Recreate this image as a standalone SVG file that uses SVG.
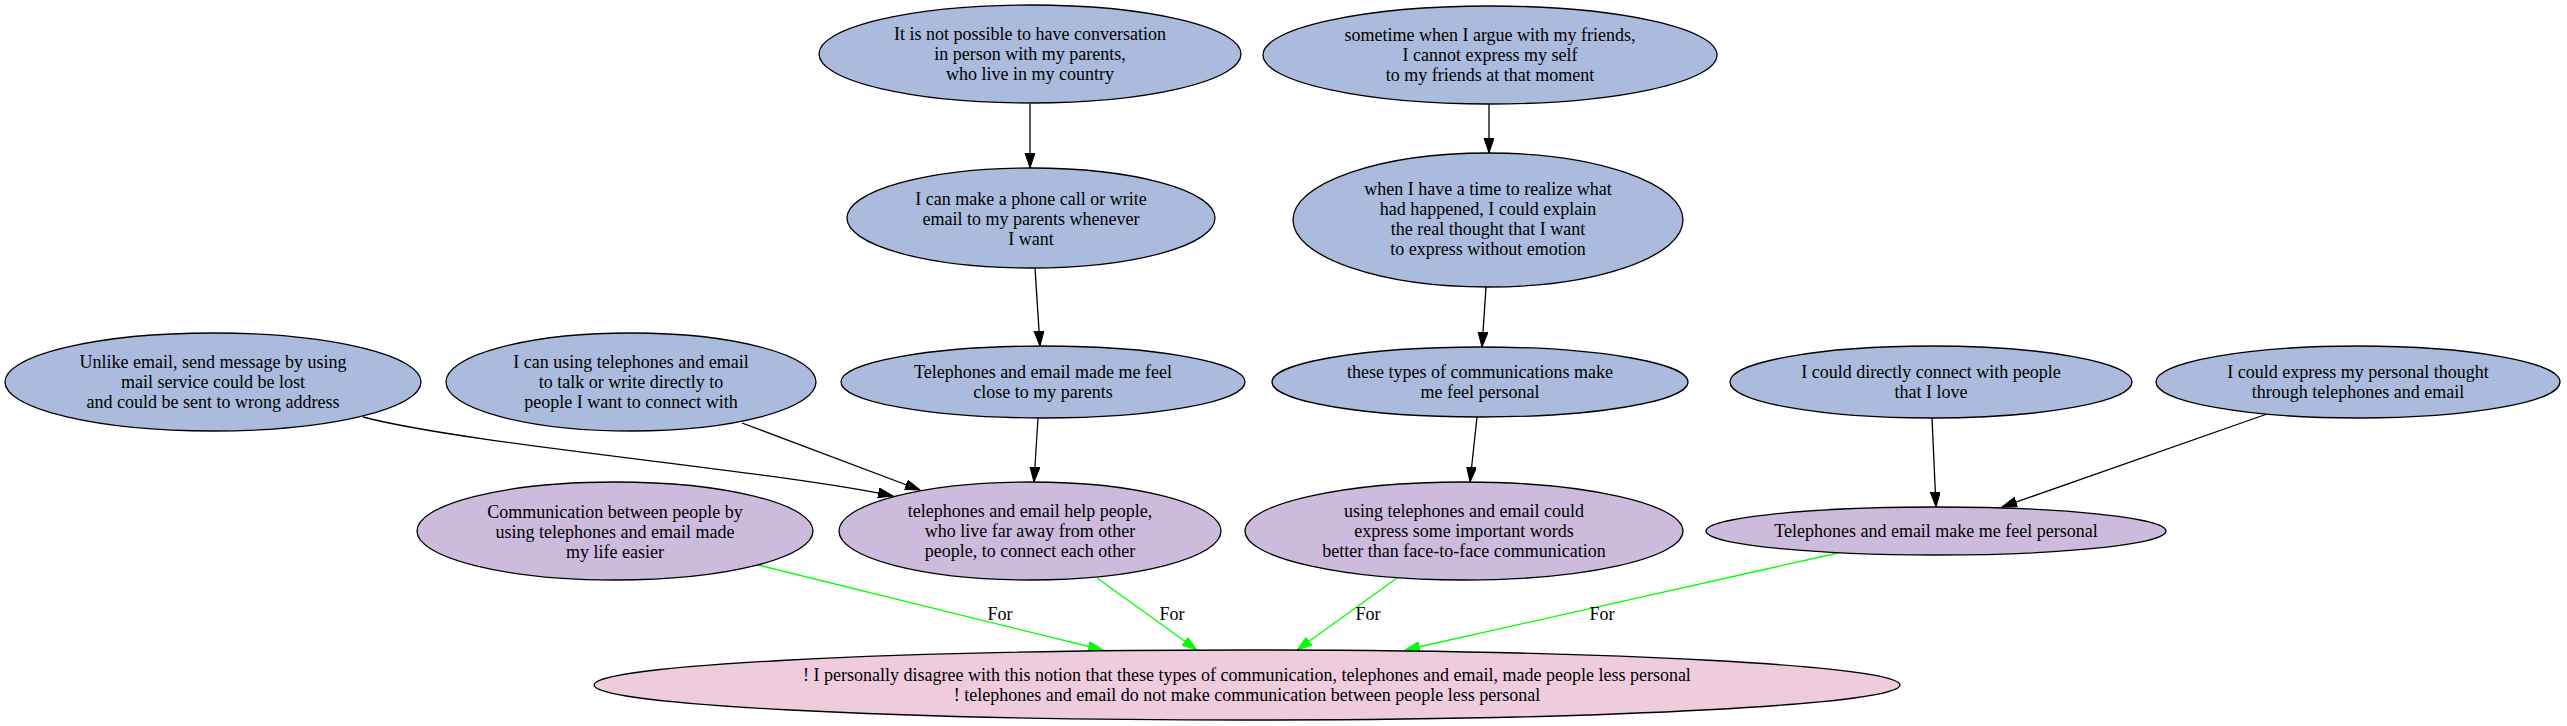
<svg xmlns="http://www.w3.org/2000/svg" width="2567" height="726" viewBox="0 0 2567 726">
<style>
.n ellipse{stroke:#000;stroke-width:1.3}
.b ellipse{fill:#aabbdd}
.p ellipse{fill:#ccbbdd}
.k ellipse{fill:#eeccdd}
text{font-family:"Liberation Serif","Times New Roman",serif;font-size:18px;fill:#000;text-anchor:middle}
.e path{fill:none;stroke-width:1.3}
.bl{stroke:#000}
.gr{stroke:#00ff00}
</style>
<defs>
<marker id="ab" markerUnits="userSpaceOnUse" markerWidth="16" markerHeight="11" refX="15" refY="5" orient="auto" viewBox="0 0 16 11"><path d="M0,0 L15,5 L0,10 z" fill="#000" stroke="#000" stroke-width="1"/></marker>
<marker id="ag" markerUnits="userSpaceOnUse" markerWidth="16" markerHeight="11" refX="15" refY="5" orient="auto" viewBox="0 0 16 11"><path d="M0,0 L15,5 L0,10 z" fill="#00ff00" stroke="#00ff00" stroke-width="1"/></marker>
</defs>
<rect width="2567" height="726" fill="#fff"/>
<g id="edges" class="e">
<path class="bl" d="M1030,104 L1030,168" marker-end="url(#ab)"/>
<path class="bl" d="M1489,104 L1489,153" marker-end="url(#ab)"/>
<path class="bl" d="M1035,268 L1040,346" marker-end="url(#ab)"/>
<path class="bl" d="M1486,287 L1482,347" marker-end="url(#ab)"/>
<path class="bl" d="M1038,418 L1034,482" marker-end="url(#ab)"/>
<path class="bl" d="M1477,417 L1470,482" marker-end="url(#ab)"/>
<path class="bl" d="M742,423 L920,490" marker-end="url(#ab)"/>
<path class="bl" d="M363,417 C470,445 770,470 893,496" marker-end="url(#ab)"/>
<path class="bl" d="M1932,418 L1936,507" marker-end="url(#ab)"/>
<path class="bl" d="M2267,414 L2002,507" marker-end="url(#ab)"/>
<path class="gr" d="M758,565 L1103,650" marker-end="url(#ag)"/>
<path class="gr" d="M1097,578 L1197,650" marker-end="url(#ag)"/>
<path class="gr" d="M1397,578 L1297,650" marker-end="url(#ag)"/>
<path class="gr" d="M1838,553 L1405,650" marker-end="url(#ag)"/>
<text x="1000" y="620">For</text>
<text x="1172" y="620">For</text>
<text x="1368" y="620">For</text>
<text x="1602" y="620">For</text>
</g>
<g id="nA" class="n b"><ellipse cx="1030" cy="54" rx="211" ry="49"/><text x="1030" y="40">It is not possible to have conversation</text><text x="1030" y="60">in person with my parents,</text><text x="1030" y="80">who live in my country</text></g>
<g id="nB" class="n b"><ellipse cx="1490" cy="55" rx="227" ry="49"/><text x="1490" y="41">sometime when I argue with my friends,</text><text x="1490" y="61">I cannot express my self</text><text x="1490" y="81">to my friends at that moment</text></g>
<g id="nC" class="n b"><ellipse cx="1031" cy="218" rx="184" ry="50"/><text x="1031" y="205">I can make a phone call or write</text><text x="1031" y="225">email to my parents whenever</text><text x="1031" y="245">I want</text></g>
<g id="nD" class="n b"><ellipse cx="1488" cy="220" rx="195" ry="67"/><text x="1488" y="195">when I have a time to realize what</text><text x="1488" y="215">had happened, I could explain</text><text x="1488" y="235">the real thought that I want</text><text x="1488" y="255">to express without emotion</text></g>
<g id="nE" class="n b"><ellipse cx="213" cy="382" rx="208" ry="49"/><text x="213" y="368">Unlike email, send message by using</text><text x="213" y="388">mail service could be lost</text><text x="213" y="408">and could be sent to wrong address</text></g>
<g id="nF" class="n b"><ellipse cx="631" cy="382" rx="185" ry="49"/><text x="631" y="368">I can using telephones and email</text><text x="631" y="388">to talk or write directly to</text><text x="631" y="408">people I want to connect with</text></g>
<g id="nI" class="n b"><ellipse cx="1043" cy="382" rx="202" ry="36"/><text x="1043" y="378">Telephones and email made me feel</text><text x="1043" y="398">close to my parents</text></g>
<g id="nJ" class="n b"><ellipse cx="1480" cy="382" rx="208" ry="35"/><text x="1480" y="378">these types of communications make</text><text x="1480" y="398">me feel personal</text></g>
<g id="nL" class="n b"><ellipse cx="1931" cy="382" rx="201" ry="36"/><text x="1931" y="378">I could directly connect with people</text><text x="1931" y="398">that I love</text></g>
<g id="nM" class="n b"><ellipse cx="2358" cy="382" rx="202" ry="36"/><text x="2358" y="378">I could express my personal thought</text><text x="2358" y="398">through telephones and email</text></g>
<g id="nG" class="n p"><ellipse cx="615" cy="531" rx="198" ry="49"/><text x="615" y="518">Communication between people by</text><text x="615" y="538">using telephones and email made</text><text x="615" y="558">my life easier</text></g>
<g id="nH" class="n p"><ellipse cx="1030" cy="531" rx="191" ry="49"/><text x="1030" y="517">telephones and email help people,</text><text x="1030" y="537">who live far away from other</text><text x="1030" y="557">people, to connect each other</text></g>
<g id="nK" class="n p"><ellipse cx="1464" cy="531" rx="219" ry="49"/><text x="1464" y="517">using telephones and email could</text><text x="1464" y="537">express some important words</text><text x="1464" y="557">better than face-to-face communication</text></g>
<g id="nN" class="n p"><ellipse cx="1936" cy="531" rx="230" ry="24"/><text x="1936" y="537">Telephones and email make me feel personal</text></g>
<g id="nZ" class="n k"><ellipse cx="1247" cy="685" rx="653" ry="35"/><text x="1247" y="681">! I personally disagree with this notion that these types of communication, telephones and email, made people less personal</text><text x="1247" y="701">! telephones and email do not make communication between people less personal</text></g>
</svg>
